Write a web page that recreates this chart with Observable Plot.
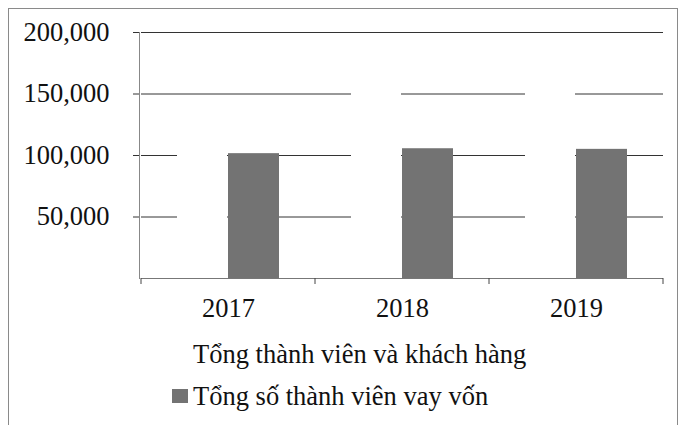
<!DOCTYPE html>
<html><head><meta charset="utf-8">
<script src="https://cdn.jsdelivr.net/npm/d3@7"></script>
<script src="https://cdn.jsdelivr.net/npm/@observablehq/plot@0.6"></script>
<style>
html,body{margin:0;padding:0;background:#fff;overflow:hidden;width:681px;height:425px}
#frame{position:absolute;left:8px;top:8px;width:670px;height:440px;border:1px solid #8a8a8a;border-bottom:none;box-sizing:border-box}
#chart{position:absolute;left:0;top:0}
#legend{position:absolute;left:172px;top:333px;font-family:"Liberation Serif",serif;font-size:26.5px;color:#111;line-height:42px}
.item{display:flex;align-items:center}
.sw{width:16px;height:14px;margin-right:5px;flex:none}
</style></head><body>
<div id="frame"></div>
<div id="chart"></div>
<div id="legend"></div>
<script>
const years = ["2017", "2018", "2019"];
const totalMembersCustomers = [125000, 172000, 165000];
const borrowingMembers = [101500, 105500, 105000];
const seriesNames = ["Tổng thành viên và khách hàng", "Tổng số thành viên vay vốn"];
const seriesColors = ["#ffffff", "#737373"];
const yTicks = [50000, 100000, 150000, 200000];

const white = years.map((y, i) => ({year: y, value: totalMembersCustomers[i]}));
const gray = years.map((y, i) => ({year: y, value: borrowingMembers[i]}));

const boundaryTicks = (index, scales, values, dims) => {
  const x = scales.x;
  const bw = x.bandwidth ? x.bandwidth() : (dims.width - dims.marginLeft - dims.marginRight) / years.length;
  const y0 = dims.height - dims.marginBottom;
  const g = d3.create("svg:g").attr("stroke", "#444").attr("stroke-width", 1);
  const xs = [x(years[0]), ...years.map(d => x(d) + bw)];
  for (const xv of xs) g.append("line").attr("x1", xv).attr("x2", xv).attr("y1", y0).attr("y2", y0 + 6);
  return g.node();
};

const plot = Plot.plot({
  width: 681,
  height: 330,
  marginLeft: 141,
  marginRight: 18,
  marginTop: 32,
  marginBottom: 52,
  style: {fontFamily: "Liberation Serif, serif", fontSize: "26.5px", color: "#111", background: "transparent"},
  x: {domain: years, paddingInner: 0, paddingOuter: 0, axis: null},
  y: {domain: [0, 200000], axis: null},
  marks: [
    Plot.ruleY(yTicks, {stroke: "#333", strokeWidth: 1}),
    Plot.frame({anchor: "left", stroke: "#888", insetLeft: -2}),
    Plot.axisY({ticks: yTicks, tickSize: 6, tickPadding: 24, tickFormat: d3.format(","), label: null, stroke: "#333", fill: "#111", dx: -2}),
    Plot.barY(white, {x: "year", y: "value", fill: seriesColors[0], insetLeft: 36, insetRight: 88}),
    Plot.barY(gray, {x: "year", y: "value", fill: seriesColors[1], insetLeft: 87, insetRight: 36}),
    Plot.ruleY([0], {stroke: "#777", strokeWidth: 1}),
    boundaryTicks,
    Plot.axisX({tickSize: 0, tickPadding: 20, label: null, fill: "#111"})
  ]
});
document.getElementById("chart").appendChild(plot);

const legend = document.getElementById("legend");
seriesNames.forEach((name, i) => {
  const item = document.createElement("div");
  item.className = "item";
  const sw = document.createElement("span");
  sw.className = "sw";
  sw.style.background = seriesColors[i];
  const t = document.createElement("span");
  t.textContent = name;
  item.appendChild(sw);
  item.appendChild(t);
  legend.appendChild(item);
});
</script>
</body></html>
